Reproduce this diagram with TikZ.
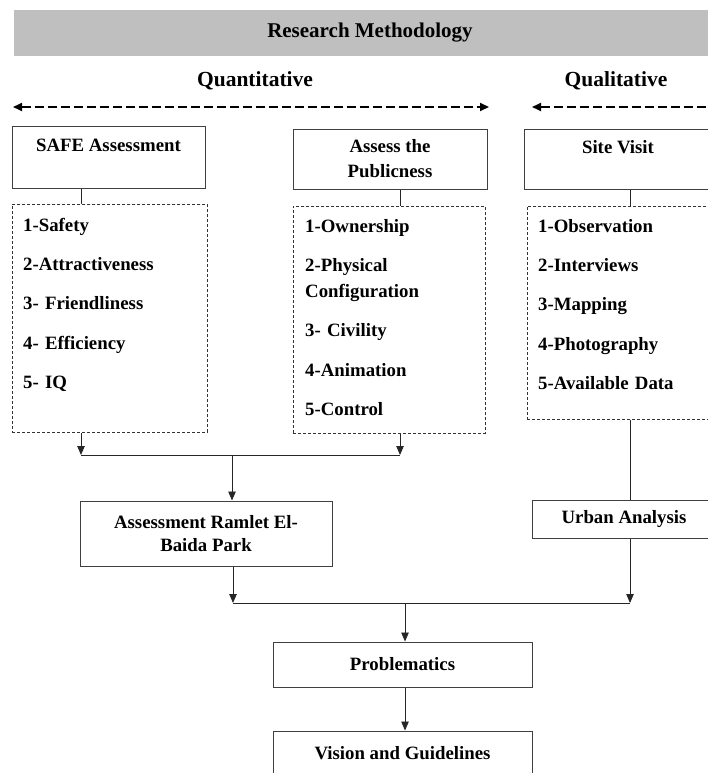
\documentclass[tikz,border=0pt]{standalone}
\usepackage{fontspec}
\setmainfont{Liberation Serif}
\usetikzlibrary{arrows.meta}
\begin{document}
\begin{tikzpicture}[x=1pt,y=-1pt,
  headbox/.style={draw=black!75, line width=1pt, align=center, inner sep=0pt, font=\fontsize{18.8}{25}\selectfont\bfseries},
  listbox/.style={draw=black!80, densely dashed, line width=0.7pt, inner sep=0pt},
  listtext/.style={text width=180pt, align=left, inner sep=0pt, anchor=base west, font=\fontsize{18.8}{26}\selectfont\bfseries},
  link/.style={draw=black!85, line width=0.8pt},
  flow/.style={link, -{Triangle[length=9pt,width=7.5pt]}},
  spanarrow/.style={draw=black, line width=1.8pt, dash pattern=on 9pt off 4pt, {Triangle[length=9pt,width=8pt]}-{Triangle[length=9pt,width=8pt]}}]
\useasboundingbox (0,0) rectangle (707,773);
\node [fill=black!25, minimum width=713pt, minimum height=46pt, font=\fontsize{21}{25}\selectfont\bfseries] (title) at (370,33) {Research Methodology};
\node [font=\fontsize{21.5}{25}\selectfont\bfseries] (quant) at (255,81) {Quantitative};
\node [font=\fontsize{21.5}{25}\selectfont\bfseries] (qual) at (616,81) {Qualitative};
\coordinate (quantL) at (13,107);
\coordinate (quantR) at (489,107);
\coordinate (qualL) at (532,107);
\coordinate (qualR) at (740,107);
\draw [spanarrow] (quantL) -- (quantR);
\draw [spanarrow] (qualL) -- (qualR);
\node [headbox, minimum width=193pt, minimum height=61pt] (safe) at (108.5,157.5) {SAFE Assessment\\ ~};
\node [headbox, minimum width=194pt, minimum height=60pt] (publ) at (390,159) {Assess the\\Publicness};
\node [headbox, minimum width=188pt, minimum height=60pt] (site) at (618,159) {Site Visit\\ ~};
\node [listbox, minimum width=195pt, minimum height=228pt, anchor=north west] (safelist) at (12,204) {};
\node [listtext] (safeitems) at ([xshift=11pt,yshift=-27pt]safelist.north west) {1-Safety\\[13.4pt]2-Attractiveness\\[13.4pt]3- Friendliness\\[13.4pt]4- Efficiency\\[13.4pt]5- IQ};
\node [listbox, minimum width=192pt, minimum height=227pt, anchor=north west] (publist) at (293,206) {};
\node [listtext] (pubitems) at ([xshift=12pt,yshift=-26pt]publist.north west) {1-Ownership\\[13.4pt]2-Physical\\Configuration\\[13.4pt]3- Civility\\[13.4pt]4-Animation\\[13.4pt]5-Control};
\node [listbox, minimum width=193pt, minimum height=213pt, anchor=north west] (sitelist) at (527,206) {};
\node [listtext] (siteitems) at ([xshift=11pt,yshift=-26pt]sitelist.north west) {1-Observation\\[13.4pt]2-Interviews\\[13.4pt]3-Mapping\\[13.4pt]4-Photography\\[13.4pt]5-Available Data};
\node [headbox, minimum width=252pt, minimum height=65pt, font=\fontsize{18.8}{23}\selectfont\bfseries] (assess) at (206,533.5) {Assessment Ramlet El-\\Baida Park};
\node [headbox, minimum width=184pt, minimum height=38pt] (urban) at (624,519) {Urban Analysis};
\node [headbox, minimum width=259pt, minimum height=45pt] (probl) at (402.5,664.5) {Problematics};
\node [headbox, minimum width=259pt, minimum height=45pt] (vision) at (402.5,753.5) {Vision and Guidelines};
\coordinate (joinA) at (81,455);
\coordinate (joinB) at (400,455);
\coordinate (joinC) at (232,455);
\coordinate (joinD) at (233,603);
\coordinate (joinE) at (630,603);
\coordinate (joinF) at (405,603);
\draw [link] (safe.south -| joinA) -- (safelist.north -| joinA);
\draw [link] (publ.south -| joinB) -- (publist.north -| joinB);
\draw [link] (site.south -| joinE) -- (sitelist.north -| joinE);
\draw [flow] (safelist.south -| joinA) -- (joinA);
\draw [flow] (publist.south -| joinB) -- (joinB);
\draw [link] (joinA) -- (joinB);
\draw [flow] (joinC) -- (assess.north -| joinC);
\draw [link] (sitelist.south -| joinE) -- (urban.north -| joinE);
\draw [flow] (assess.south -| joinD) -- (joinD);
\draw [flow] (urban.south -| joinE) -- (joinE);
\draw [link] (joinD) -- (joinE);
\draw [flow] (joinF) -- (probl.north -| joinF);
\draw [flow] (probl.south -| joinF) -- (vision.north -| joinF);
\end{tikzpicture}
\end{document}
